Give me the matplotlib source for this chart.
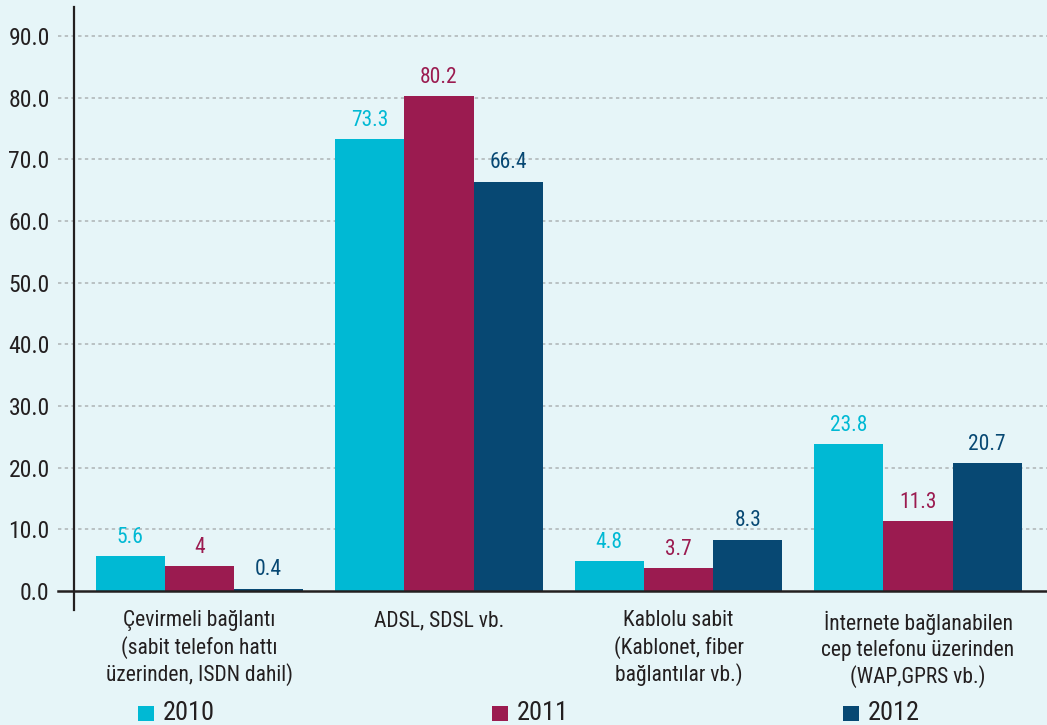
import matplotlib
matplotlib.use("Agg")
import matplotlib.pyplot as plt
from matplotlib.patches import Rectangle
from matplotlib.lines import Line2D
import numpy as np

categories = [
    "Çevirmeli bağlantı\n(sabit telefon hattı\nüzerinden, ISDN dahil)",
    "ADSL, SDSL vb.",
    "Kablolu sabit\n(Kablonet, fiber\nbağlantılar vb.)",
    "İnternete bağlanabilen\ncep telefonu üzerinden\n(WAP,GPRS vb.)",
]
series_names = ["2010", "2011", "2012"]
v2010 = [5.6, 73.3, 4.8, 23.8]
v2011 = [4.0, 80.2, 3.7, 11.3]
v2012 = [0.4, 66.4, 8.3, 20.7]
value_labels_2010 = ["5.6", "73.3", "4.8", "23.8"]
value_labels_2011 = ["4", "80.2", "3.7", "11.3"]
value_labels_2012 = ["0.4", "66.4", "8.3", "20.7"]
yticks = [0, 10, 20, 30, 40, 50, 60, 70, 80, 90]
ytick_labels = ["0.0", "10.0", "20.0", "30.0", "40.0", "50.0", "60.0", "70.0", "80.0", "90.0"]

colors = ["#00b9d4", "#9b1b50", "#074873"]
bg = "#e6f5f8"
dark = "#231f20"
FONT = ["Liberation Sans Narrow", "Roboto Condensed", "Lato", "DejaVu Sans"]
plt.rcParams["font.family"] = FONT

W, H = 1047, 725
fig = plt.figure(figsize=(W / 100, H / 100), dpi=100, facecolor=bg)

def px_x(p):
    return p / W

def px_y(p):
    return 1 - p / H

ax_left, ax_right, ax_top, ax_bottom = 58, 1047, 7, 591
ax = fig.add_axes([px_x(ax_left), px_y(ax_bottom), px_x(ax_right - ax_left),
                   (ax_bottom - ax_top) / H])
ax.set_facecolor(bg)

x = np.arange(len(categories))
bw = 0.289
unit = 239.5  # pixels per group
xmin = (58 - 199.5) / unit
xmax = (1047 - 199.5) / unit
ax.set_xlim(xmin, xmax)
ppu = (591 - 36) / 90.0
ax.set_ylim(0, (591 - 7) / ppu)

all_vals = [v2010, v2011, v2012]
all_labels = [value_labels_2010, value_labels_2011, value_labels_2012]
for i, (vals, labs) in enumerate(zip(all_vals, all_labels)):
    pos = x + (i - 1) * bw
    ax.bar(pos, vals, width=bw, color=colors[i], zorder=3, linewidth=0)
    for p, v, t in zip(pos, vals, labs):
        ax.annotate(t, (p, v), xytext=(0, 6), textcoords="offset points",
                    ha="center", va="bottom", color=colors[i], fontsize=15.5,
                    zorder=4)

# gridlines
for t in yticks[1:]:
    ax.axhline(t, color="#adb3b5", lw=1.1, ls=(0, (2.2, 2.2)), zorder=1)
ax.axhline(0, color=dark, lw=1.8, zorder=5, clip_on=False)

ax.set_yticks(yticks)
ax.set_yticklabels(ytick_labels, fontsize=17, color=dark)
ax.tick_params(axis="y", length=0, pad=6)
ax.set_xticks(x)
ax.set_xticklabels(categories, fontsize=15.5, color=dark, linespacing=1.25)
ax.tick_params(axis="x", length=0, pad=14)

for s in ax.spines.values():
    s.set_visible(False)

# vertical axis line
fig.add_artist(Line2D([px_x(74), px_x(74)], [px_y(7), px_y(610)],
                      color=dark, lw=1.6))

# legend
leg_sq = [138, 492, 843]
for i, name in enumerate(series_names):
    fig.add_artist(Rectangle((px_x(leg_sq[i]), px_y(721)), px_x(16), 15 / H,
                             color=colors[i], lw=0))
    fig.text(px_x(leg_sq[i] + 25), px_y(713), name, fontsize=19, color=dark,
             va="center", ha="left")

fig.savefig("out.png", dpi=100, facecolor=bg)
